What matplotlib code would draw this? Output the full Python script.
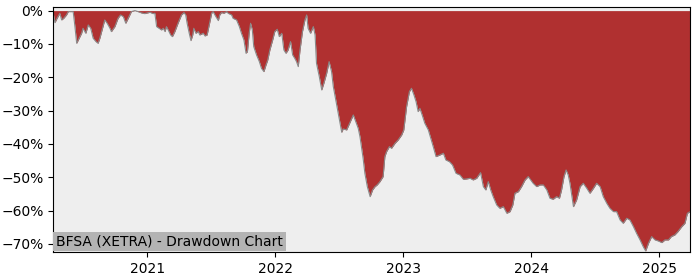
import pandas as pd
import matplotlib
matplotlib.use("Agg")
import matplotlib.pyplot as plt
import matplotlib.dates as mdates
from matplotlib.ticker import PercentFormatter

# ── Data (drawdown in %) ─────────────────────────────────────────────────────
TITLE = "BFSA (XETRA) - Drawdown Chart"

dates = [
    "2020-04-08", "2020-04-13", "2020-04-19", "2020-04-27", "2020-05-02", "2020-05-08",
    "2020-05-16", "2020-05-21", "2020-06-04", "2020-06-09", "2020-06-14", "2020-06-21",
    "2020-06-28", "2020-07-02", "2020-07-10", "2020-07-17", "2020-07-24", "2020-07-31",
    "2020-08-08", "2020-08-14", "2020-08-19", "2020-08-28", "2020-09-02", "2020-09-09",
    "2020-09-17", "2020-09-21", "2020-10-01", "2020-10-10", "2020-10-17", "2020-10-25",
    "2020-11-01", "2020-11-08", "2020-11-17", "2020-11-27", "2020-12-06", "2020-12-16",
    "2020-12-25", "2021-01-09", "2021-01-18", "2021-01-23", "2021-01-28", "2021-02-04",
    "2021-02-11", "2021-02-16", "2021-02-21", "2021-02-25", "2021-03-02", "2021-03-09",
    "2021-03-14", "2021-03-21", "2021-03-30", "2021-04-09", "2021-04-16", "2021-04-21",
    "2021-04-25", "2021-05-01", "2021-05-06", "2021-05-11", "2021-05-14", "2021-05-20",
    "2021-05-27", "2021-05-31", "2021-06-10", "2021-06-15", "2021-06-21", "2021-06-27",
    "2021-07-04", "2021-07-08", "2021-07-16", "2021-07-23", "2021-07-27", "2021-08-01",
    "2021-08-08", "2021-08-16", "2021-08-20", "2021-08-30", "2021-09-03", "2021-09-13",
    "2021-09-21", "2021-09-27", "2021-10-04", "2021-10-10", "2021-10-14", "2021-10-19",
    "2021-10-23", "2021-10-28", "2021-11-01", "2021-11-09", "2021-11-17", "2021-11-23",
    "2021-11-30", "2021-12-06", "2021-12-11", "2021-12-17", "2021-12-25", "2021-12-31",
    "2022-01-07", "2022-01-13", "2022-01-20", "2022-01-26", "2022-02-01", "2022-02-07",
    "2022-02-14", "2022-02-20", "2022-02-26", "2022-03-03", "2022-03-08", "2022-03-13",
    "2022-03-20", "2022-03-27", "2022-04-01", "2022-04-05", "2022-04-12", "2022-04-20",
    "2022-04-25", "2022-04-29", "2022-05-07", "2022-05-14", "2022-05-20", "2022-05-28",
    "2022-06-04", "2022-06-11", "2022-06-16", "2022-06-23", "2022-06-30", "2022-07-10",
    "2022-07-14", "2022-07-24", "2022-08-12", "2022-08-26", "2022-08-31", "2022-09-09",
    "2022-09-14", "2022-09-21", "2022-09-29", "2022-10-06", "2022-10-13", "2022-10-19",
    "2022-10-27", "2022-11-05", "2022-11-10", "2022-11-15", "2022-11-23", "2022-11-29",
    "2022-12-09", "2022-12-18", "2022-12-28", "2023-01-03", "2023-01-11", "2023-01-19",
    "2023-01-25", "2023-02-01", "2023-02-07", "2023-02-13", "2023-02-18", "2023-02-26",
    "2023-03-04", "2023-03-14", "2023-03-21", "2023-03-28", "2023-04-05", "2023-04-16",
    "2023-04-26", "2023-05-03", "2023-05-13", "2023-05-22", "2023-06-01", "2023-06-12",
    "2023-06-22", "2023-07-01", "2023-07-11", "2023-07-20", "2023-07-30", "2023-08-10",
    "2023-08-18", "2023-08-25", "2023-09-01", "2023-09-08", "2023-09-15", "2023-09-25",
    "2023-10-04", "2023-10-14", "2023-10-24", "2023-11-02", "2023-11-10", "2023-11-16",
    "2023-11-26", "2023-12-05", "2023-12-15", "2023-12-24", "2023-12-31", "2024-01-07",
    "2024-01-17", "2024-01-27", "2024-02-05", "2024-02-15", "2024-02-24", "2024-03-04",
    "2024-03-14", "2024-03-22", "2024-03-28", "2024-04-04", "2024-04-10", "2024-04-16",
    "2024-04-21", "2024-05-01", "2024-05-10", "2024-05-20", "2024-05-29", "2024-06-08",
    "2024-06-17", "2024-06-27", "2024-07-06", "2024-07-16", "2024-07-25", "2024-08-04",
    "2024-08-13", "2024-08-23", "2024-09-01", "2024-09-11", "2024-09-20", "2024-09-30",
    "2024-10-09", "2024-10-19", "2024-10-28", "2024-11-07", "2024-11-16", "2024-11-23",
    "2024-12-01", "2024-12-10", "2024-12-20", "2024-12-29", "2025-01-08", "2025-01-17",
    "2025-01-27", "2025-02-04", "2025-02-14", "2025-02-23", "2025-03-06", "2025-03-15",
    "2025-03-22", "2025-03-30",
]

drawdown = [
    -0.8, -3.6, -2.3, -0.8, -2.8, -2.3,
    -1.3, -0.3, -0.3, -4.8, -9.8, -8.3,
    -6.8, -5.3, -6.8, -4.3, -5.3, -8.3,
    -9.3, -9.8, -8.3, -4.8, -2.8, -3.8,
    -5.3, -6.3, -4.8, -2.3, -1.3, -1.8,
    -3.8, -2.3, -0.3, 0.0, -0.3, -0.7,
    -0.9, -0.5, -0.9, -0.8, -4.8, -5.3,
    -5.8, -5.3, -6.3, -4.8, -5.8, -7.3,
    -7.8, -6.3, -3.8, -1.3, -0.6, -1.3,
    -3.8, -6.8, -9.0, -7.3, -5.3, -6.8,
    -6.3, -7.3, -6.8, -7.6, -7.3, -4.3,
    -0.8, -0.3, -1.8, -3.0, -1.3, -0.6,
    -0.8, -0.3, -0.8, -1.3, -2.3, -2.8,
    -4.8, -6.8, -8.8, -12.8, -12.3, -6.8,
    -3.8, -5.8, -10.8, -13.3, -15.3, -17.3,
    -18.3, -16.3, -14.8, -11.8, -8.8, -6.3,
    -5.6, -7.8, -6.8, -11.8, -12.8, -11.8,
    -9.3, -13.3, -14.3, -15.3, -16.8, -11.8,
    -6.3, -2.8, -1.3, -5.3, -6.8, -4.8,
    -7.3, -15.8, -19.8, -23.8, -21.8, -18.8,
    -15.3, -18.3, -22.8, -26.8, -30.8, -36.5,
    -35.5, -35.8, -31.3, -35.3, -37.8, -44.3,
    -48.8, -52.8, -55.8, -53.8, -52.8, -52.3,
    -51.3, -49.8, -43.8, -42.3, -40.8, -41.3,
    -39.8, -38.8, -37.3, -35.8, -28.8, -24.3,
    -23.3, -25.3, -27.3, -30.3, -29.3, -31.8,
    -33.8, -35.8, -38.3, -40.8, -43.8, -43.3,
    -42.8, -44.8, -45.3, -46.3, -48.8, -49.3,
    -50.6, -50.5, -50.3, -50.8, -50.3, -48.6,
    -52.8, -53.8, -51.3, -53.8, -55.8, -58.3,
    -59.3, -58.8, -60.8, -60.3, -58.3, -54.8,
    -54.3, -52.8, -50.8, -49.8, -50.8, -51.8,
    -52.8, -52.3, -52.3, -53.8, -56.3, -56.6,
    -55.8, -56.3, -53.8, -49.8, -47.8, -49.3,
    -51.8, -58.8, -56.8, -52.8, -51.8, -53.3,
    -54.8, -53.3, -51.8, -52.8, -55.8, -57.8,
    -59.3, -60.3, -60.3, -62.8, -63.8, -62.3,
    -62.8, -64.8, -66.8, -68.8, -70.8, -72.1,
    -69.8, -67.8, -68.8, -69.1, -69.6, -68.8,
    -68.8, -67.8, -67.3, -66.3, -64.8, -63.8,
    -60.8, -60.3,
]

# ── Plot ─────────────────────────────────────────────────────────────────────
x = pd.to_datetime(dates)

fig = plt.figure(figsize=(7, 2.8), dpi=100)
ax = fig.add_axes([0.076, 0.099, 0.910, 0.875])
ax.set_facecolor("#eeeeee")

ax.fill_between(x, drawdown, 0, color="#b03030", linewidth=0)
ax.plot(x, drawdown, color="#8a8a8a", linewidth=0.8)

ax.set_xlim(x[0], x[-1])
ax.set_ylim(-72.5, 1.0)
ax.set_yticks(range(0, -71, -10))
ax.yaxis.set_major_formatter(PercentFormatter(decimals=0))
ax.xaxis.set_major_locator(mdates.YearLocator())
ax.xaxis.set_major_formatter(mdates.DateFormatter("%Y"))

ax.annotate(TITLE, xy=(0, 0), xycoords="axes fraction",
            xytext=(3, 4), textcoords="offset pixels",
            fontsize=10, ha="left", va="bottom",
            bbox=dict(boxstyle="square,pad=0.2", fc="#b3b3b3", ec="none"))

fig.savefig("out.png", dpi=100)
